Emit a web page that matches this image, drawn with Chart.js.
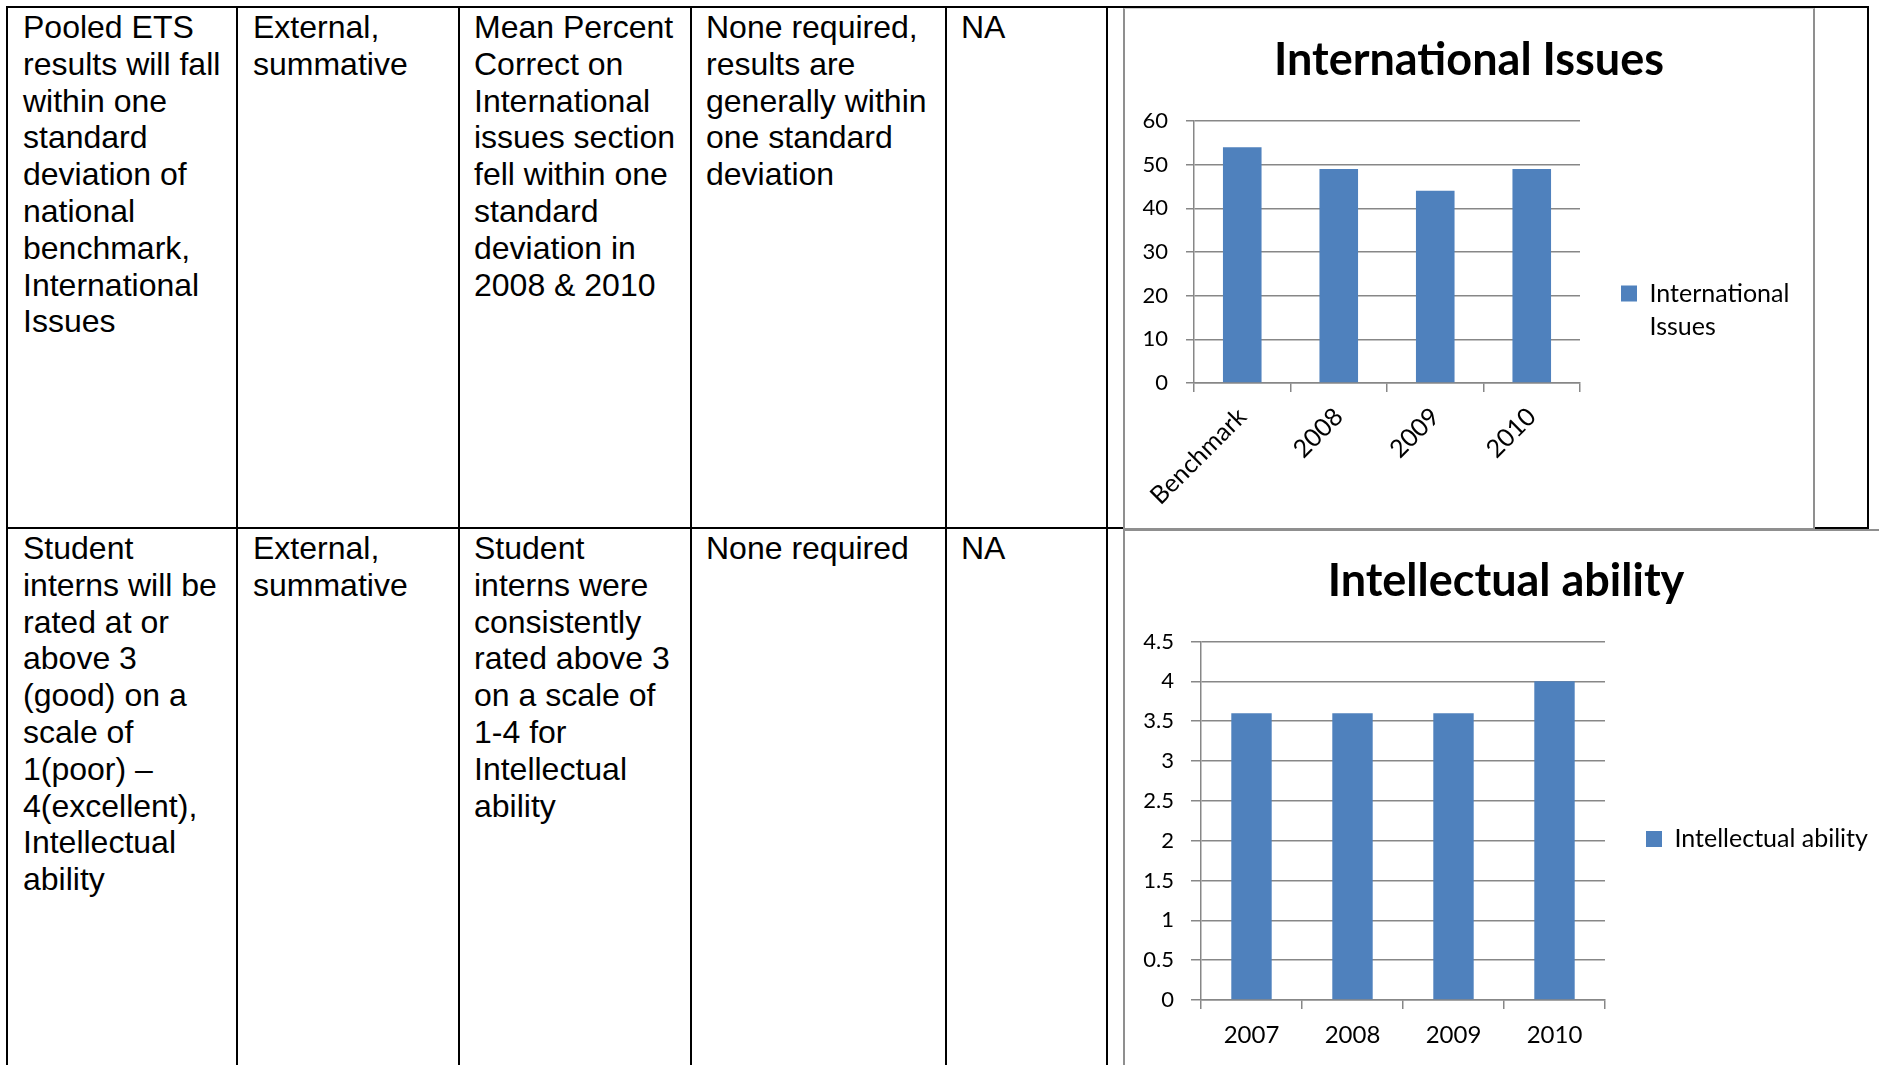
<!DOCTYPE html>
<html><head><meta charset="utf-8">
<script src="https://cdn.jsdelivr.net/npm/chart.js@4.4.1/dist/chart.umd.min.js"></script>
<style>
html,body{margin:0;padding:0;background:#fff;width:1879px;height:1065px;overflow:hidden;}
#page{position:relative;width:1879px;height:1065px;overflow:hidden;}
.ln{position:absolute;background:#000;}
.cell{position:absolute;font-family:'Liberation Sans',Arial,sans-serif;font-size:32px;line-height:36.8px;color:#000;white-space:nowrap;}
.box{position:absolute;box-sizing:border-box;background:#fff;overflow:hidden;}
canvas{position:absolute;display:block;}
</style></head>
<body><div id="page">
<!-- table lines -->
<div class="ln" style="left:6px;top:6px;width:1863px;height:2px"></div>
<div class="ln" style="left:6px;top:6px;width:2px;height:1070px"></div>
<div class="ln" style="left:236px;top:6px;width:2px;height:1070px"></div>
<div class="ln" style="left:458px;top:6px;width:2px;height:1070px"></div>
<div class="ln" style="left:690px;top:6px;width:2px;height:1070px"></div>
<div class="ln" style="left:945px;top:6px;width:2px;height:1070px"></div>
<div class="ln" style="left:1106px;top:6px;width:2px;height:1070px"></div>
<div class="ln" style="left:1867px;top:6px;width:2px;height:523px"></div>
<div class="ln" style="left:6px;top:527px;width:1863px;height:2px"></div>

<!-- row 1 text -->
<div class="cell" style="left:23px;top:9px">Pooled ETS<br>results will fall<br>within one<br>standard<br>deviation of<br>national<br>benchmark,<br>International<br>Issues</div>
<div class="cell" style="left:253px;top:9px">External,<br>summative</div>
<div class="cell" style="left:474px;top:9px">Mean Percent<br>Correct on<br>International<br>issues section<br>fell within one<br>standard<br>deviation in<br>2008 &amp; 2010</div>
<div class="cell" style="left:706px;top:9px">None required,<br>results are<br>generally within<br>one standard<br>deviation</div>
<div class="cell" style="left:961px;top:9px">NA</div>

<!-- row 2 text -->
<div class="cell" style="left:23px;top:530px">Student<br>interns will be<br>rated at or<br>above 3<br>(good) on a<br>scale of<br>1(poor) –<br>4(excellent),<br>Intellectual<br>ability</div>
<div class="cell" style="left:253px;top:530px">External,<br>summative</div>
<div class="cell" style="left:474px;top:530px">Student<br>interns were<br>consistently<br>rated above 3<br>on a scale of<br>1-4 for<br>Intellectual<br>ability</div>
<div class="cell" style="left:706px;top:530px">None required</div>
<div class="cell" style="left:961px;top:530px">NA</div>

<!-- chart boxes -->
<div class="box" style="left:1123px;top:8px;width:692px;height:522px;border-left:2px solid #8f8f8f;border-right:2px solid #8f8f8f;border-bottom:2px solid #8f8f8f;border-top:1px solid #d0d0d0;">
  <canvas id="c1" style="left:0;top:0"></canvas>
</div>
<div class="box" style="left:1123px;top:529px;width:770px;height:540px;border-left:2px solid #8f8f8f;border-top:2px solid #8f8f8f;">
  <canvas id="c2" style="left:0;top:0"></canvas>
</div>
</div>
<script>
// ---- data ----
const intlCategories = ['Benchmark', '2008', '2009', '2010'];
const intlValues = [54, 49, 44, 49];
const intlTicks = [0, 10, 20, 30, 40, 50, 60];
const intlTitle = 'International Issues';
const intlLegend = ['International', 'Issues'];

const intelCategories = ['2007', '2008', '2009', '2010'];
const intelValues = [3.6, 3.6, 3.6, 4];
const intelTicks = [0, 0.5, 1, 1.5, 2, 2.5, 3, 3.5, 4, 4.5];
const intelTitle = 'Intellectual ability';
const intelLegend = ['Intellectual ability'];

// ---- styles ----
const BAR = '#4F81BD';
const GRID = '#878787';
const FONT = 'Lato';
Chart.defaults.color = '#000';
Chart.defaults.font.family = FONT;

function measure(text, font) {
  const c = document.createElement('canvas').getContext('2d');
  c.font = font;
  return c.measureText(text).width;
}

function makeChart(id, cfg) {
  const canvas = document.getElementById(id);
  canvas.width = cfg.w; canvas.height = cfg.h;
  canvas.style.width = cfg.w + 'px'; canvas.style.height = cfg.h + 'px';
  const legendFont = cfg.legendFont;
  const longest = cfg.legend.reduce((a, b) => a.length > b.length ? a : b);
  const itemW = 16 + legendFont / 2 + measure(longest, legendFont + 'px ' + FONT);
  const padR = Math.max(0, cfg.w - cfg.plotRight - cfg.legendPad - 10 - itemW);
  return new Chart(canvas, {
    type: 'bar',
    data: {
      labels: cfg.categories,
      datasets: [{ label: cfg.legend.join(' '), data: cfg.values, backgroundColor: BAR, borderWidth: 0,
        categoryPercentage: 1, barPercentage: 0.4 }]
    },
    options: {
      responsive: false, animation: false,
      devicePixelRatio: 1,
      layout: { padding: { left: padR, top: 0, bottom: 0, right: padR } },
      plugins: {
        title: { display: true, text: cfg.title, color: '#000',
          font: { family: FONT, weight: 'bold', size: 45, lineHeight: 1.2 },
          padding: { top: cfg.titleTop, bottom: cfg.titleBottom } },
        legend: { position: 'right', align: 'center', maxWidth: 1000,
          labels: { boxWidth: 16, boxHeight: 16, padding: cfg.legendPad, color: '#000',
            font: { family: FONT, size: legendFont, lineHeight: 1.32 },
            generateLabels: (chart) => {
              const items = Chart.defaults.plugins.legend.labels.generateLabels(chart);
              items.forEach(it => { it.text = cfg.legend.length > 1 ? cfg.legend : cfg.legend[0]; it.lineWidth = 0; });
              return items;
            } } },
        tooltip: { enabled: false }
      },
      scales: {
        x: {
          grid: { display: true, drawOnChartArea: false, drawTicks: true, tickLength: 9, color: GRID, lineWidth: 1.5, offset: true },
          border: { display: true, color: GRID, width: 1.5 },
          ticks: { autoSkip: false, minRotation: cfg.rot, maxRotation: cfg.rot, padding: cfg.xPad,
            font: { family: FONT, size: cfg.xFont }, color: '#000' },
          afterFit: (s) => { s.height = cfg.xHeight; }
        },
        y: {
          min: cfg.yTicks[0], max: cfg.yTicks[cfg.yTicks.length - 1],
          grid: { color: GRID, lineWidth: 1.5, tickLength: cfg.yTick, drawTicks: true },
          border: { display: true, color: GRID, width: 1.5 },
          ticks: { padding: cfg.yPad, font: { family: FONT, size: 22 }, color: '#000',
            callback: (v) => String(v) },
          afterBuildTicks: (s) => { s.ticks = cfg.yTicks.map(v => ({ value: v })); },
          afterFit: (s) => { s.width = cfg.yWidth - padR; }
        }
      }
    }
  });
}

// chart 1: canvas at page (1125, 9)
makeChart('c1', {
  w: 688, h: 610,
  categories: intlCategories, values: intlValues, yTicks: intlTicks,
  title: intlTitle, legend: intlLegend, legendFont: 25,
  titleTop: 24.5, titleBottom: 33.5,
  plotRight: 455, legendPad: 41,
  yWidth: 69, yTick: 8, yPad: 18,
  xHeight: 236, rot: 45, xPad: 10, xFont: 25
});
// chart 2: canvas at page (1125, 531)
makeChart('c2', {
  w: 762, h: 616,
  categories: intelCategories, values: intelValues, yTicks: intelTicks,
  title: intelTitle, legend: intelLegend, legendFont: 25,
  titleTop: 23.5, titleBottom: 33,
  plotRight: 480, legendPad: 41,
  yWidth: 76, yTick: 10, yPad: 17,
  xHeight: 147, rot: 0, xPad: 12, xFont: 24
});
</script>
</body></html>
